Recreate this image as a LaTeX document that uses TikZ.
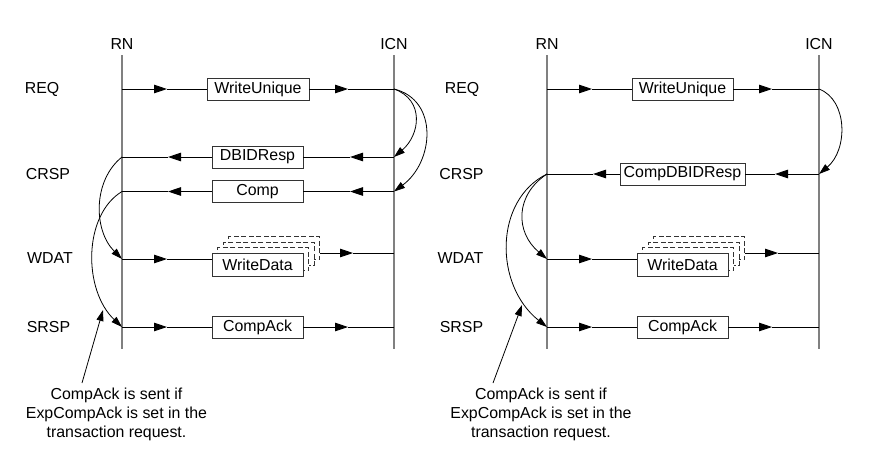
\documentclass[tikz,border=0pt]{standalone}
\usepackage{fontspec}
\setmainfont{Liberation Sans}
\usetikzlibrary{arrows.meta}
\begin{document}
\begin{tikzpicture}[x=1pt,y=-1pt,
  every node/.style={font=\fontsize{15.9}{19}\selectfont, inner sep=0pt},
  life/.style={draw=black!50, line width=1.5pt},
  msg/.style={draw=black, line width=0.9pt},
  arr/.style={msg, -{Triangle[length=13pt,width=8.5pt]}},
  curv/.style={draw=black, line width=0.8pt, -{Triangle[length=11pt,width=7pt]}},
  box/.style={draw=black!80, line width=0.9pt, fill=white, minimum height=22pt},
  dbox/.style={box, dash pattern=on 5pt off 2.5pt, minimum width=91pt, minimum height=23pt},
]
\useasboundingbox (0,0) rectangle (872,461);

%%%%%%%%%%%%%%%% LEFT PANEL %%%%%%%%%%%%%%%%
\node (RNa) at (122,44) {RN};
\node (ICNa) at (394,44) {ICN};
\coordinate (RNaT) at (122,55); \coordinate (RNaB) at (122,349);
\coordinate (ICNaT) at (394,55); \coordinate (ICNaB) at (394,349);
\draw[life] (RNaT) -- (RNaB);
\draw[life] (ICNaT) -- (ICNaB);

\node (REQa) at (42,89) {REQ};
\node (CRSPa) at (48,174) {CRSP};
\node (WDATa) at (50,258) {WDAT};
\node (SRSPa) at (48.5,327) {SRSP};

\node[box, minimum width=102pt] (wuA) at (258,89) {WriteUnique};
\node[box, minimum width=91pt] (dbA) at (257.5,157) {DBIDResp};
\node[box, minimum width=91pt] (cpA) at (257.5,191.5) {Comp};
\node[dbox] (wd3A) at (274,248) {};
\node[dbox] (wd2A) at (268.5,253.5) {};
\node[dbox] (wd1A) at (263,259) {};
\node[box, minimum width=91pt, minimum height=23pt] (wdA) at (257.5,264.5) {WriteData};
\node[box, minimum width=91pt] (caA) at (257.5,327) {CompAck};

% REQ
\coordinate (rqL) at (122,89); \coordinate (rqR) at (394,89);
\coordinate (rqT1) at (167,89); \coordinate (rqT2) at (348,89);
\draw[arr] (rqL) -- (rqT1); \draw[msg] (rqT1) -- (wuA.west);
\draw[arr] (wuA.east) -- (rqT2); \draw[msg] (rqT2) -- (rqR);
% DBIDResp
\coordinate (dbL) at (122,157); \coordinate (dbR) at (394,157);
\coordinate (dbT1) at (168,157); \coordinate (dbT2) at (350,157);
\draw[arr] (dbR) -- (dbT2); \draw[msg] (dbT2) -- (dbA.east);
\draw[arr] (dbA.west) -- (dbT1); \draw[msg] (dbT1) -- (dbL);
% Comp
\coordinate (cpL) at (122,191.5); \coordinate (cpR) at (394,191.5);
\coordinate (cpT1) at (168,191.5); \coordinate (cpT2) at (350,191.5);
\draw[arr] (cpR) -- (cpT2); \draw[msg] (cpT2) -- (cpA.east);
\draw[arr] (cpA.west) -- (cpT1); \draw[msg] (cpT1) -- (cpL);
% WriteData
\coordinate (wdL) at (122,259); \coordinate (wdR) at (394,253);
\coordinate (wdT1) at (167,259); \coordinate (wdT2) at (353,253);
\draw[arr] (wdL) -- (wdT1); \draw[msg] (wdT1) -- (wdT1 -| wdA.west);
\draw[arr] (wdR -| wd3A.east) -- (wdT2); \draw[msg] (wdT2) -- (wdR);
% CompAck
\coordinate (caL) at (122,327); \coordinate (caR) at (394,327);
\coordinate (caT1) at (167,327); \coordinate (caT2) at (348,327);
\draw[arr] (caL) -- (caT1); \draw[msg] (caT1) -- (caA.west);
\draw[arr] (caA.east) -- (caT2); \draw[msg] (caT2) -- (caR);

% curves
\draw[curv] (rqR) .. controls (425,100) and (420,135) .. (dbR);
\draw[curv] (rqR) .. controls (439,100) and (434,162) .. (cpR);
\draw[curv] (dbL) .. controls (93,180) and (93,230) .. (wdL);
\draw[curv] (cpL) .. controls (83,215) and (83,290) .. (caL);

\node[align=center] (noteA) at (116.5,414) {CompAck is sent if\\ExpCompAck is set in the\\transaction request.};
\coordinate (noteAs) at (82,383); \coordinate (noteAt) at (103,310);
\draw[curv] (noteAs) -- (noteAt);

%%%%%%%%%%%%%%%% RIGHT PANEL %%%%%%%%%%%%%%%%
\node (RNb) at (547,44) {RN};
\node (ICNb) at (819,44) {ICN};
\coordinate (RNbT) at (547,55); \coordinate (RNbB) at (547,349);
\coordinate (ICNbT) at (819,55); \coordinate (ICNbB) at (819,349);
\draw[life] (RNbT) -- (RNbB);
\draw[life] (ICNbT) -- (ICNbB);

\node (REQb) at (462,89) {REQ};
\node (CRSPb) at (461.5,174) {CRSP};
\node (WDATb) at (460.5,258) {WDAT};
\node (SRSPb) at (461.5,327) {SRSP};

\node[box, minimum width=101pt] (wuB) at (682.5,89) {WriteUnique};
\node[box, minimum width=125pt] (cdB) at (682.5,174) {CompDBIDResp};
\node[dbox] (wd3B) at (699,248) {};
\node[dbox] (wd2B) at (693.5,253.5) {};
\node[dbox] (wd1B) at (688,259) {};
\node[box, minimum width=91pt, minimum height=23pt] (wdB) at (682.5,264.5) {WriteData};
\node[box, minimum width=91pt] (caB) at (682.5,327) {CompAck};

% REQ
\coordinate (rqLb) at (547,89); \coordinate (rqRb) at (819,89);
\coordinate (rqT1b) at (592,89); \coordinate (rqT2b) at (772,89);
\draw[arr] (rqLb) -- (rqT1b); \draw[msg] (rqT1b) -- (wuB.west);
\draw[arr] (wuB.east) -- (rqT2b); \draw[msg] (rqT2b) -- (rqRb);
% CompDBIDResp
\coordinate (cdL) at (547,174); \coordinate (cdR) at (819,174);
\coordinate (cdT1) at (593,174); \coordinate (cdT2) at (775,174);
\draw[arr] (cdR) -- (cdT2); \draw[msg] (cdT2) -- (cdB.east);
\draw[arr] (cdB.west) -- (cdT1); \draw[msg] (cdT1) -- (cdL);
% WriteData
\coordinate (wdLb) at (547,259); \coordinate (wdRb) at (819,253);
\coordinate (wdT1b) at (592,259); \coordinate (wdT2b) at (778,253);
\draw[arr] (wdLb) -- (wdT1b); \draw[msg] (wdT1b) -- (wdT1b -| wdB.west);
\draw[arr] (wdRb -| wd3B.east) -- (wdT2b); \draw[msg] (wdT2b) -- (wdRb);
% CompAck
\coordinate (caLb) at (547,327); \coordinate (caRb) at (819,327);
\coordinate (caT1b) at (592,327); \coordinate (caT2b) at (772,327);
\draw[arr] (caLb) -- (caT1b); \draw[msg] (caT1b) -- (caB.west);
\draw[arr] (caB.east) -- (caT2b); \draw[msg] (caT2b) -- (caRb);

% curves
\draw[curv] (rqRb) .. controls (848,100) and (848,150) .. (cdR);
\draw[curv] (cdL) .. controls (515,195) and (515,232) .. (wdLb);
\draw[curv] (cdL) .. controls (494,200) and (494,285) .. (caLb);

\node[align=center] (noteB) at (541,414) {CompAck is sent if\\ExpCompAck is set in the\\transaction request.};
\coordinate (noteBs) at (493,383); \coordinate (noteBt) at (522,305);
\draw[curv] (noteBs) -- (noteBt);
\end{tikzpicture}
\end{document}
